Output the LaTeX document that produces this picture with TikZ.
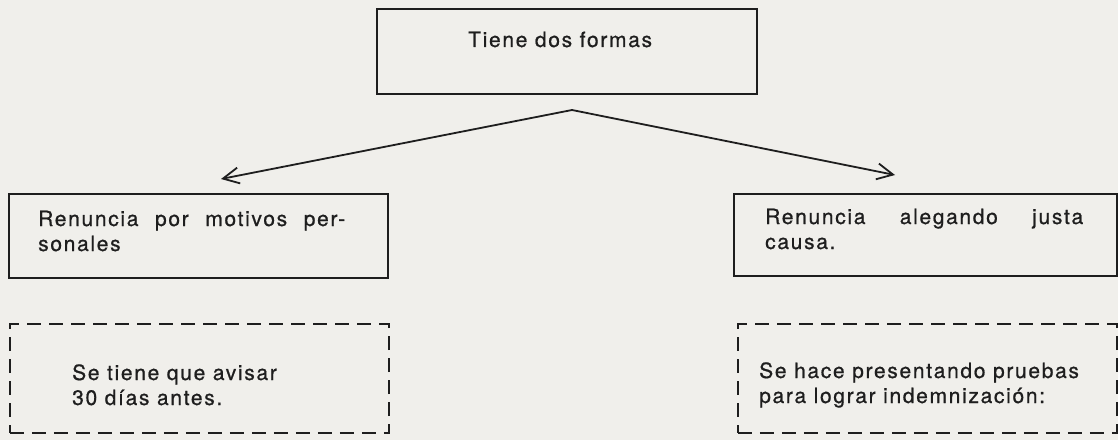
\documentclass[tikz,border=0pt]{standalone}
\usepackage{fontspec}
\setmainfont{TeX Gyre Heros}[LetterSpace=8,FakeBold=0.8]
\usetikzlibrary{arrows.meta}
\definecolor{paper}{RGB}{240,239,235}
\definecolor{ink}{RGB}{30,30,30}
\begin{document}
\begin{tikzpicture}[x=1pt,y=1pt,
  box/.style={draw=ink, line width=1.8pt, rectangle, inner sep=0pt, anchor=south west},
  dbox/.style={box, dash pattern=on 14pt off 8pt},
  lbl/.style={anchor=base west, inner sep=0pt, text=ink, font=\fontsize{21}{25}\selectfont},
  arr/.style={draw=ink, line width=1.8pt, line join=miter, {Straight Barb[length=16pt,width=16pt]}-{Straight Barb[length=16pt,width=16pt]}}]
\fill[paper] (0,0) rectangle (1118,440);
\useasboundingbox (0,0) rectangle (1118,440);
% boxes
\node[box, minimum width=380pt, minimum height=85pt] (top) at (376,345) {};
\node[box, minimum width=379pt, minimum height=84pt] (left) at (8,161) {};
\node[box, minimum width=383pt, minimum height=82pt] (right) at (733,163) {};
\node[dbox, minimum width=379pt, minimum height=109pt] (dleft) at (9,6) {};
\node[dbox, minimum width=379pt, minimum height=109pt] (dright) at (737,6) {};
% connectors
\coordinate (apex) at (572,330);
\coordinate (tipL) at (221,261);
\coordinate (tipR) at (895,265);
\draw[arr] (tipL) -- (apex) -- (tipR);
% texts
\node[lbl] (t0) at (468,393) {Tiene dos formas};
\node[lbl] (t1a) at (38,214) {\hbox to 307pt{Renuncia\hfill por\hfill motivos\hfill per-}};
\node[lbl] (t1b) at (38,189) {sonales};
\node[lbl] (t2a) at (765,216) {\hbox to 318pt{Renuncia\hfill alegando\hfill justa}};
\node[lbl] (t2b) at (765,191) {causa.};
\node[lbl] (t3a) at (72,60) {Se tiene que avisar};
\node[lbl] (t3b) at (72,35) {30 días antes.};
\node[lbl] (t4a) at (759,62) {Se hace presentando pruebas};
\node[lbl] (t4b) at (759,37) {para lograr indemnización:};
\end{tikzpicture}
\end{document}
